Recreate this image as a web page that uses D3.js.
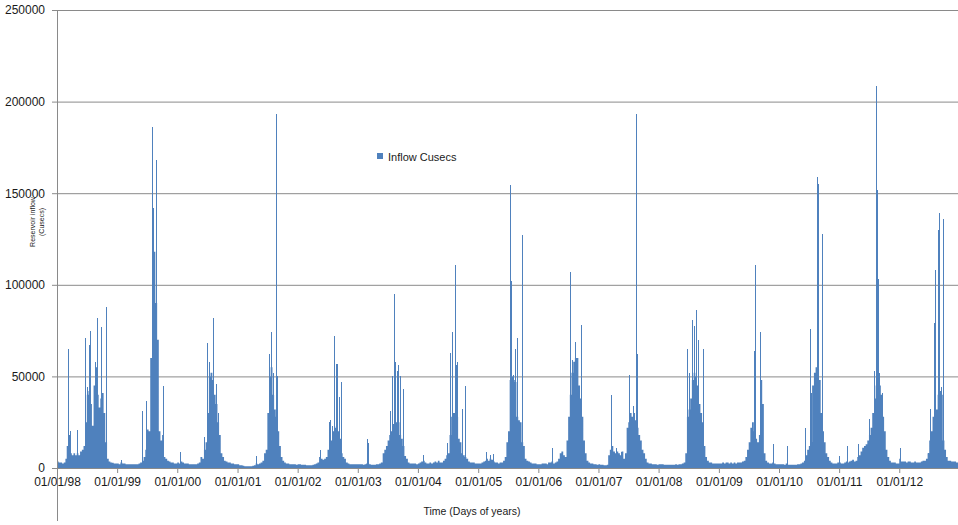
<!DOCTYPE html>
<html>
<head>
<meta charset="utf-8">
<script src="https://cdn.jsdelivr.net/npm/d3@7"></script>
<style>
  body { margin: 0; background: #fff; }
  svg { display: block; font-family: "Liberation Sans", Arial, sans-serif; }
</style>
</head>
<body>
<svg></svg>
<script>
// years on the time axis
var flowYears = [1998, 1999, 2000, 2001, 2002, 2003, 2004, 2005, 2006, 2007, 2008, 2009, 2010, 2011, 2012];

// base inflow per dekad (days 1-10, 11-20, 21-end of each month), cusecs
var flow1998 = [3500,3000,3000, 2500,3000,5000, 12000,18000,8000, 7000,8000,7000, 8000,7000,9000, 10000,12000,25000, 40000,42000,35000, 23000,45000,55000, 40000,33000,38000, 41000,30000,14000, 5000,3500,3000, 2800,2500,2500];
var flow1999 = [2500,2000,3000, 2500,2500,2000, 2000,2000,2000, 2000,2000,2000, 2000,2500,3000, 4000,6000,10000, 21000,20000,60000, 125000,118000,90000, 70000,20000,15000, 18000,6000,5000, 4000,3500,3000, 3000,2500,2500];
var flow2000 = [3000,2500,3500, 3000,2500,2500, 2500,2000,2000, 2000,2000,2000, 2500,3000,6000, 5000,10000,14000, 30000,50000,52000, 48000,40000,35000, 25000,18000,8000, 6000,4000,3500, 3000,3000,2500, 2500,2000,2000];
var flow2001 = [2000,1500,1500, 1200,1000,1000, 1000,1000,1000, 1200,1500,2500, 2000,2500,3000, 4000,8000,10000, 30000,50000,55000, 40000,32000,28000, 20000,12000,6000, 4000,3000,2500, 2500,2000,2000, 2000,2000,1800];
var flow2002 = [2000,2000,1800, 1800,1800,1500, 1500,1500,1500, 1800,2000,2500, 3000,6000,5000, 4500,5000,6000, 10000,10000,15000, 20000,22000,23000, 20000,16000,8000, 6000,5000,3000, 2500,2000,2000, 2000,2000,2000];
var flow2003 = [2000,2000,2000, 1800,2000,2500, 2500,2000,1800, 1800,1800,2000, 2000,2500,3000, 8000,10000,12000, 15000,18000,20000, 24000,26000,25000, 25000,18000,16000, 12000,6500,5000, 3000,2500,2500, 2500,2500,2000];
var flow2004 = [2500,3000,3500, 4000,3000,2500, 2500,3000,2500, 3000,3500,3000, 4000,3000,3000, 4000,5000,7000, 8000,18000,28000, 30000,30000,28000, 16000,14000,8000, 7000,6000,5000, 3500,3000,3000, 3000,2500,2500];
var flow2005 = [2500,2500,3000, 3500,4000,5000, 4000,5000,4500, 3500,3000,3000, 2500,3000,3000, 4000,6000,14000, 20000,48000,50000, 48000,47000,28000, 26000,25000,14000, 12000,5000,4000, 3500,3000,2500, 2500,2500,2000];
var flow2006 = [2000,2000,2500, 2500,2500,2000, 3000,3000,3500, 2500,3000,3500, 5000,8000,9000, 7000,6000,15000, 28000,40000,52000, 58000,60000,60000, 45000,38000,28000, 15000,8000,4000, 3000,2500,2500, 2000,2000,1800];
var flow2007 = [2000,1800,1800, 1500,1500,1800, 7000,10000,12000, 9000,8000,9000, 8000,7000,9000, 5000,8000,22000, 25000,30000,28000, 30000,26000,22000, 18000,15000,10000, 8000,5000,3000, 2500,2500,2000, 2000,2000,1800];
var flow2008 = [2000,2000,2000, 1800,1800,1800, 1800,1800,1800, 1800,2000,1800, 2000,2000,2500, 3000,8000,28000, 32000,38000,48000, 52000,50000,45000, 35000,30000,25000, 12000,6000,4000, 3000,3000,2500, 2500,2500,2500];
var flow2009 = [2500,2500,3000, 2500,3000,3000, 2500,3000,2500, 3000,2500,3000, 3000,3000,3500, 4000,6000,10000, 14000,22000,25000, 20000,16000,14000, 18000,48000,35000, 8000,4000,3000, 2500,2500,3000, 2500,2000,2000];
var flow2010 = [2000,2000,2000, 1800,2500,1800, 1800,1800,1800, 1800,1800,2000, 2000,2500,3000, 4000,7000,10000, 12000,14000,45000, 52000,55000,54000, 48000,30000,20000, 14000,8000,6000, 4000,3000,2500, 2500,2500,3000];
var flow2011 = [3000,2500,2500, 3000,3500,3000, 3500,4000,4500, 3500,4000,6000, 7000,9000,11000, 12000,13000,15000, 18000,22000,30000, 38000,45000,50000, 45000,40000,28000, 20000,10000,6000, 4000,3000,3000, 3000,2500,2500];
var flow2012 = [5000,3500,3500, 3500,3000,3500, 3500,3000,3000, 3500,3000,3000, 3000,3500,4000, 4000,5000,8000, 15000,20000,28000, 30000,32000,40000, 42000,40000,15000, 10000,6000,4000, 4000,3500,3500, 3500,3000,3000];

// single-day flood peaks
var spikeDates = [
  "1998-03-09","1998-03-20","1998-05-03","1998-06-19","1998-07-03","1998-07-15","1998-07-23","1998-08-18","1998-08-31","1998-09-28","1998-10-24",
  "1999-01-27","1999-06-04","1999-06-28","1999-07-29","1999-08-08","1999-08-28","1999-10-04",
  "2000-01-16","2000-06-12","2000-07-02","2000-07-10","2000-08-02","2000-08-08","2000-08-26","2000-09-05",
  "2001-04-26","2001-07-12","2001-07-21","2001-08-02","2001-08-24","2001-08-31",
  "2002-05-15","2002-07-09","2002-07-19","2002-07-29","2002-08-08","2002-08-19","2002-08-28","2002-09-08","2002-09-24",
  "2003-02-23","2003-03-04","2003-07-14","2003-07-28","2003-08-06","2003-08-13","2003-08-24","2003-09-04","2003-09-13","2003-10-03",
  "2004-02-01","2004-06-23","2004-07-13","2004-07-28","2004-08-14","2004-08-20","2004-08-27","2004-09-22","2004-10-10",
  "2005-02-15","2005-03-13","2005-03-31","2005-07-16","2005-07-22","2005-08-01","2005-08-13","2005-08-22","2005-09-26",
  "2006-03-22","2006-07-15","2006-07-22","2006-08-10","2006-08-21","2006-09-20",
  "2007-03-21","2007-04-20","2007-05-20","2007-07-07","2007-07-30","2007-08-15","2007-08-21",
  "2008-06-24","2008-07-03","2008-07-21","2008-08-02","2008-08-13","2008-08-25","2008-09-28",
  "2009-06-30","2009-08-04","2009-08-10","2009-09-08","2009-11-26",
  "2010-02-17","2010-06-06","2010-07-10","2010-07-17","2010-08-21","2010-08-26","2010-09-18",
  "2011-01-03","2011-02-16","2011-04-24","2011-07-04","2011-08-01","2011-08-14","2011-08-19","2011-08-23","2011-09-03","2011-09-17",
  "2012-01-07","2012-06-22","2012-07-08","2012-08-01","2012-08-05","2012-08-21","2012-08-30","2012-09-10","2012-09-21"
];
var spikeValues = [
  65000,20000,21000,71000,44000,67000,75000,58000,82000,77000,88000,
  4500,31000,36500,186000,142000,168000,45000,
  9000,17000,68000,58000,82000,60000,46000,30000,
  6500,62000,74000,52000,193000,50000,
  10000,25000,26000,23000,72000,56500,56500,39000,47000,
  16000,13500,31000,50000,95000,58000,53000,56000,50000,43000,
  7000,13500,63000,74000,111000,56000,58000,32000,45000,
  8500,7000,7500,154500,102000,51000,65000,71000,127000,
  11000,107000,59000,69000,58000,78000,
  40000,11000,9000,51000,34000,193000,62000,
  65000,52000,81000,77500,86000,70000,65000,
  12000,64000,111000,74000,13000,
  12000,22000,76000,41000,159000,155000,128000,
  6500,12000,13000,27000,53000,208500,152000,103000,52000,41000,
  11000,8000,32000,79000,108000,130000,139000,44000,136000
];

var yTicks = [0, 50000, 100000, 150000, 200000, 250000];

document.addEventListener("DOMContentLoaded", function() {

  var width = 958;
  var height = 525;
  var left = 57;
  var top = 10;
  var bottom = 468;
  var barColor = "#4F81BD";
  var gridColor = "#8a8a8a";
  var textColor = "#1a1a1a";

  var svg = d3.select("svg")
      .attr("width", width)
      .attr("height", height);

  var parse = d3.timeParse("%Y-%m-%d");

  var xScale = d3.scaleTime()
                 .domain([new Date(1998, 0, 1), new Date(2013, 0, 1)])
                 .range([left, left + 15 * 60.17]);

  var yScale = d3.scaleLinear()
                 .domain([0, 250000])
                 .range([bottom, top]);

  var dekadFlows = [flow1998, flow1999, flow2000, flow2001, flow2002, flow2003, flow2004,
                    flow2005, flow2006, flow2007, flow2008, flow2009, flow2010, flow2011, flow2012];
  var dekadDays = [1, 11, 21];

  var bulk = [];
  flowYears.forEach(function(yr, k) {
    dekadFlows[k].forEach(function(v, i) {
      bulk.push({ date: new Date(yr, Math.floor(i / 3), dekadDays[i % 3]), value: v });
    });
  });
  bulk.push({ date: new Date(2013, 0, 1), value: bulk[bulk.length - 1].value });

  var spikes = spikeDates.map(function(s, i) {
    return { date: parse(s), value: spikeValues[i] };
  });

  // gridlines
  svg.append("g")
      .attr("transform", "translate(" + left + ",0)")
      .call(d3.axisLeft(yScale).tickValues(yTicks.slice(1)).tickSize(-(width - left)).tickFormat(""))
      .call(g => g.select(".domain").remove())
      .selectAll("line")
        .attr("stroke", gridColor);

  // base flow
  var area = d3.area()
      .x(d => xScale(d.date))
      .y0(yScale(0))
      .y1(d => yScale(d.value))
      .curve(d3.curveStepAfter);

  svg.append("path")
      .datum(bulk)
      .attr("d", area)
      .attr("fill", barColor);

  // daily peaks
  svg.selectAll("rect.spike")
      .data(spikes)
      .enter()
      .append("rect")
        .attr("class", "spike")
        .attr("x", d => Math.round(xScale(d.date)))
        .attr("width", 1)
        .attr("y", d => yScale(d.value))
        .attr("height", d => yScale(0) - yScale(d.value))
        .attr("fill", barColor)
        .attr("shape-rendering", "crispEdges");

  // x axis
  var xAxis = d3.axisBottom(xScale)
                .tickValues(flowYears.map(yr => new Date(yr, 0, 1)))
                .tickFormat(d3.timeFormat("%m/%d/%y"))
                .tickSize(5)
                .tickSizeOuter(0)
                .tickPadding(4);

  var gx = svg.append("g")
      .attr("transform", "translate(0," + bottom + ")")
      .call(xAxis);
  gx.select(".domain").attr("stroke", gridColor).attr("d", "M" + left + ",0.5H" + width);
  gx.selectAll(".tick line").attr("stroke", gridColor);
  gx.selectAll("text").attr("fill", textColor).style("font-size", "12px");

  // y axis
  var yAxis = d3.axisLeft(yScale)
                .tickValues(yTicks)
                .tickFormat(d3.format("d"))
                .tickSize(5)
                .tickSizeOuter(0)
                .tickPadding(7);

  var gy = svg.append("g")
      .attr("transform", "translate(" + left + ",0)")
      .call(yAxis);
  gy.select(".domain").remove();
  gy.selectAll(".tick line").attr("stroke", gridColor);
  gy.selectAll("text").attr("fill", textColor).style("font-size", "12px");

  svg.append("line")
      .attr("x1", left + 0.5)
      .attr("x2", left + 0.5)
      .attr("y1", top)
      .attr("y2", 521)
      .attr("stroke", gridColor);

  // titles
  svg.append("text")
      .text("Time (Days of years)")
      .attr("x", 472)
      .attr("y", 515)
      .style("text-anchor", "middle")
      .style("font-size", "10.5px")
      .attr("fill", textColor);

  svg.append("text")
      .text("Reservoir inflow")
      .attr("transform", "translate(35,222) rotate(-90)")
      .style("text-anchor", "middle")
      .style("font-size", "7px")
      .attr("fill", textColor);

  svg.append("text")
      .text("(Cusecs)")
      .attr("transform", "translate(43.5,222) rotate(-90)")
      .style("text-anchor", "middle")
      .style("font-size", "7px")
      .attr("fill", textColor);

  // legend
  svg.append("rect")
      .attr("x", 377)
      .attr("y", 153)
      .attr("width", 6)
      .attr("height", 6)
      .attr("fill", barColor);

  svg.append("text")
      .text("Inflow Cusecs")
      .attr("x", 388)
      .attr("y", 161)
      .style("font-size", "11px")
      .attr("fill", textColor);
});
</script>
</body>
</html>
